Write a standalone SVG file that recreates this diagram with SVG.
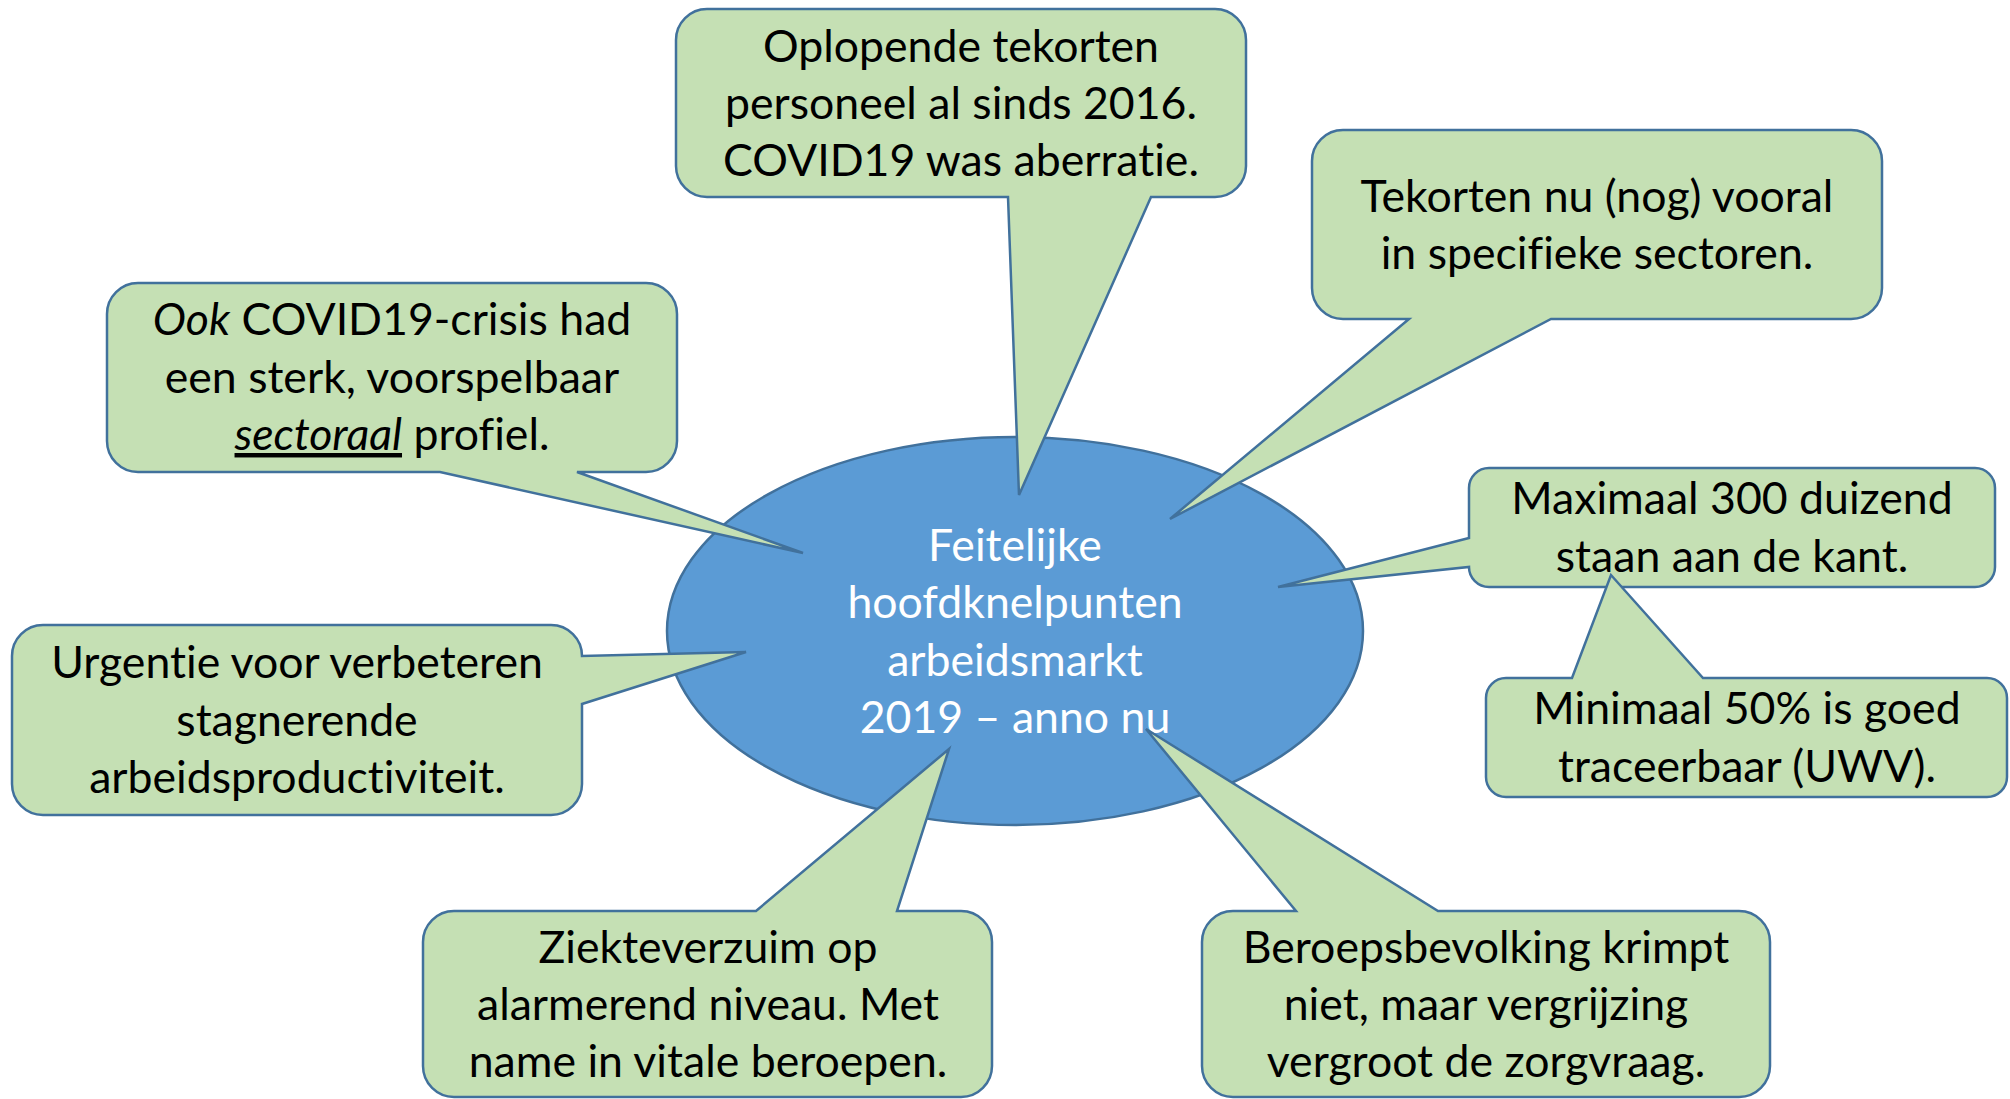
<svg xmlns="http://www.w3.org/2000/svg" width="2010" height="1099" viewBox="0 0 2010 1099">
<style>
.bg{fill:#ffffff}
.hub{fill:#5B9BD5;stroke:#41719C;stroke-width:2.5}
.callout{fill:#C5E0B4;stroke:#41719C;stroke-width:2.5;stroke-linejoin:miter}
text{font-family:Lato,"Open Sans","Liberation Sans",sans-serif;font-size:44.6px;text-anchor:middle;fill:#000000;font-variant-ligatures:none;font-feature-settings:"liga" 0}
.hubtext{fill:#ffffff}
.it{font-style:italic}
.ul{text-decoration:underline}
</style>
<rect class="bg" x="0" y="0" width="2010" height="1099"/>
<g id="hub">
<ellipse class="hub" cx="1015" cy="631" rx="348" ry="194"/>
<text class="hubtext" x="1015" y="561">Feitelijke</text>
<text class="hubtext" x="1015" y="618">hoofdknelpunten</text>
<text class="hubtext" x="1015" y="676">arbeidsmarkt</text>
<text class="hubtext" x="1015" y="733">2019 – anno nu</text>
</g>
<g id="connectors">
</g>
<g id="c1">
<path class="callout" d="M707,9 H1215 A31,31 0 0 1 1246,40 V166 A31,31 0 0 1 1215,197 H1151 L1019,495 L1008,197 H707 A31,31 0 0 1 676,166 V40 A31,31 0 0 1 707,9 Z"/>
<text x="961" y="62">Oplopende tekorten</text>
<text x="961" y="119">personeel al sinds 2016.</text>
<text x="961" y="176">COVID19 was aberratie.</text>
</g>
<g id="c2">
<path class="callout" d="M1343,130 H1851 A31,31 0 0 1 1882,161 V288 A31,31 0 0 1 1851,319 H1551 L1170,519 L1409,319 H1343 A31,31 0 0 1 1312,288 V161 A31,31 0 0 1 1343,130 Z"/>
<text x="1597" y="212">Tekorten nu (nog) vooral</text>
<text x="1597" y="269">in specifieke sectoren.</text>
</g>
<g id="c3">
<path class="callout" d="M138,283 H646 A31,31 0 0 1 677,314 V441 A31,31 0 0 1 646,472 H577 L803,553 L440,472 H138 A31,31 0 0 1 107,441 V314 A31,31 0 0 1 138,283 Z"/>
<text x="392" y="335"><tspan class="it">Ook</tspan> COVID19-crisis had</text>
<text x="392" y="393">een sterk, voorspelbaar</text>
<text x="392" y="450"><tspan class="it ul">sectoraal</tspan> profiel.</text>
</g>
<g id="c4">
<path class="callout" d="M43,625 H551 A31,31 0 0 1 582,656 L746,652 L582,704 V784 A31,31 0 0 1 551,815 H43 A31,31 0 0 1 12,784 V656 A31,31 0 0 1 43,625 Z"/>
<text x="297" y="678">Urgentie voor verbeteren</text>
<text x="297" y="736">stagnerende</text>
<text x="297" y="793">arbeidsproductiviteit.</text>
</g>
<g id="c5">
<path class="callout" d="M1489,468 H1975 A20,20 0 0 1 1995,488 V567 A20,20 0 0 1 1975,587 H1489 A20,20 0 0 1 1469,567 L1278,587 L1469,538 V488 A20,20 0 0 1 1489,468 Z"/>
<text x="1732" y="514">Maximaal 300 duizend</text>
<text x="1732" y="572">staan aan de kant.</text>
</g>
<g id="c6">
<path class="callout" d="M1506,678 H1572 L1611,575 L1703,678 H1987 A20,20 0 0 1 2007,698 V777 A20,20 0 0 1 1987,797 H1506 A20,20 0 0 1 1486,777 V698 A20,20 0 0 1 1506,678 Z"/>
<text x="1747" y="724">Minimaal 50% is goed</text>
<text x="1747" y="782">traceerbaar (UWV).</text>
</g>
<g id="c7">
<path class="callout" d="M454,911 H756 L949,749 L897,911 H961 A31,31 0 0 1 992,942 V1066 A31,31 0 0 1 961,1097 H454 A31,31 0 0 1 423,1066 V942 A31,31 0 0 1 454,911 Z"/>
<text x="708" y="963">Ziekteverzuim op</text>
<text x="708" y="1020">alarmerend niveau. Met</text>
<text x="708" y="1077">name in vitale beroepen.</text>
</g>
<g id="c8">
<path class="callout" d="M1233,911 H1296 L1146,729 L1438,911 H1739 A31,31 0 0 1 1770,942 V1066 A31,31 0 0 1 1739,1097 H1233 A31,31 0 0 1 1202,1066 V942 A31,31 0 0 1 1233,911 Z"/>
<text x="1486" y="963">Beroepsbevolking krimpt</text>
<text x="1486" y="1020">niet, maar vergrijzing</text>
<text x="1486" y="1077">vergroot de zorgvraag.</text>
</g>
</svg>
